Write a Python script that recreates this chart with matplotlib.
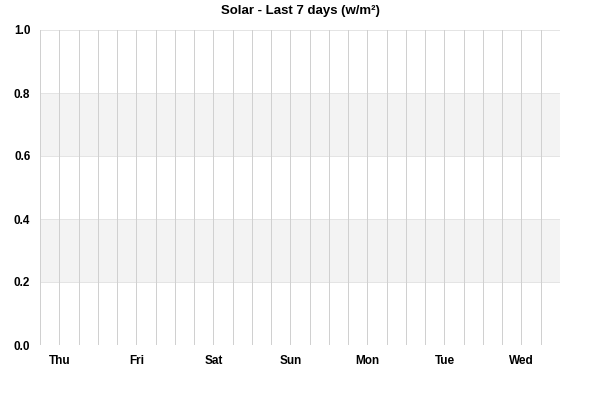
import matplotlib
matplotlib.use("Agg")
import matplotlib.pyplot as plt
import numpy as np

plt.rcParams['font.family'] = ['Liberation Sans', 'DejaVu Sans']

# hours relative to Thu 00:00
days = ['Thu', 'Fri', 'Sat', 'Sun', 'Mon', 'Tue', 'Wed']
day_hours = [0, 24, 48, 72, 96, 120, 144]
x_start, x_end = -6, 156
grid_step = 6
y_ticks = [0.0, 0.2, 0.4, 0.6, 0.8, 1.0]
bands = [(0.2, 0.4), (0.6, 0.8)]
# no readings in the last 7 days
solar_x = []
solar_y = []

fig = plt.figure(figsize=(6, 4), dpi=100)
ax = fig.add_axes([40/600, 1 - 345/400, 520/600, 315/400])

for lo, hi in bands:
    ax.axhspan(lo, hi, color='#f3f3f3', zorder=0, lw=0)
for yv in y_ticks:
    ax.axhline(yv, color='#e4e4e4', lw=0.72, zorder=1)
ax.axhline(0, color='#cccccc', lw=0.72, zorder=2)
for xv in np.arange(x_start, x_end + 1, grid_step):
    ax.axvline(xv, color='#d0d0d0', lw=0.72, zorder=1)

ax.plot(solar_x, solar_y, color='#f0a000')

ax.set_xlim(x_start, x_end)
ax.set_ylim(0, 1.0)
ax.set_xticks(day_hours)
ax.set_xticklabels(days, fontweight='bold', fontsize=8.5)
ax.set_yticks(y_ticks)
ax.set_yticklabels(['%.1f' % v for v in y_ticks], fontweight='bold', fontsize=8.5)
ax.tick_params(length=0, pad=7)
for s in ax.spines.values():
    s.set_visible(False)

fig.suptitle('Solar - Last 7 days (w/m²)', y=1 - 11/400, va='center',
             fontweight='bold', fontsize=9.5)

fig.savefig('out.png', dpi=100, facecolor='white')
